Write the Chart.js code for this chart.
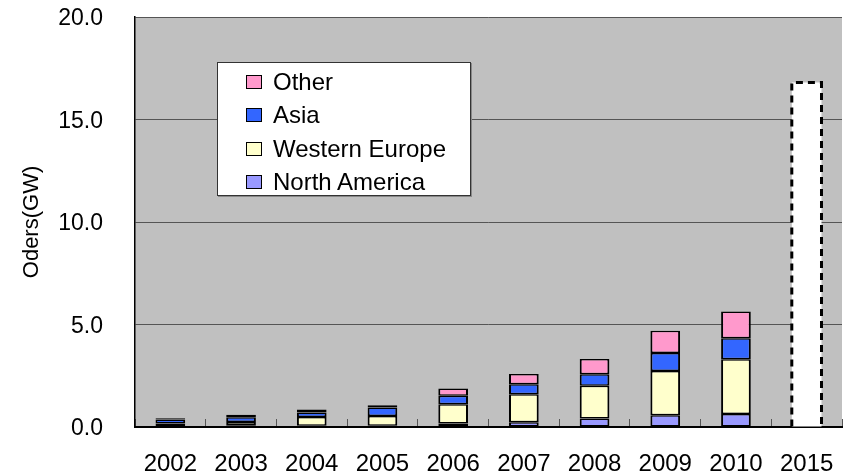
<!DOCTYPE html>
<html>
<head>
<meta charset="utf-8">
<script src="https://cdn.jsdelivr.net/npm/chart.js@4/dist/chart.umd.min.js"></script>
<style>
  body { margin: 0; background: #fff; }
  #wrap { position: relative; width: 845px; height: 473px; }
  #legend {
    position: absolute; left: 217px; top: 62px; width: 254px; height: 134px;
    background: #fff; border: 1px solid #333; box-shadow: 1px 1px 0 #888;
    padding: 2px 0 0 28px; box-sizing: border-box;
    font-family: "Liberation Sans", Arial, sans-serif; font-size: 24px; color: #000;
  }
  #legend .row { display: flex; align-items: center; height: 33.5px; }
  #legend .sw { width: 14px; height: 12px; border: 1px solid #000; margin-right: 11px; }
</style>
</head>
<body>
<div id="wrap">
  <canvas id="orderChart"></canvas>
  <div id="legend"></div>
</div>
<script>
var years = ['2002', '2003', '2004', '2005', '2006', '2007', '2008', '2009', '2010', '2015'];
var northAmerica  = [0.05, 0.08, 0.06, 0.06, 0.17, 0.23, 0.41, 0.57, 0.64, null];
var westernEurope = [0.12, 0.16, 0.43, 0.48, 0.94, 1.37, 1.60, 2.16, 2.66, null];
var asia          = [0.19, 0.24, 0.22, 0.41, 0.41, 0.48, 0.56, 0.88, 1.03, null];
var other         = [0.07, 0.12, 0.14, 0.11, 0.36, 0.50, 0.75, 1.08, 1.31, null];
var forecast      = [null, null, null, null, null, null, null, null, null, 16.8];
var yTicks = [0, 5, 10, 15, 20];

var font = '"Liberation Sans", Arial, sans-serif';

var segBorder = { top: 1.5, bottom: 1.5, left: 2, right: 2 };

function series(label, data, color) {
  return {
    label: label,
    data: data,
    backgroundColor: color,
    borderColor: '#000',
    borderWidth: segBorder,
    borderSkipped: false
  };
}

// grey plot background
var plotBg = {
  id: 'plotBg',
  beforeDraw: function(chart) {
    var a = chart.chartArea, c = chart.ctx;
    c.save();
    c.fillStyle = '#C0C0C0';
    c.fillRect(a.left, a.top, a.right - a.left, a.bottom - a.top);
    c.restore();
  }
};

// dotted outline round the 2015 bar
var dashedBar = {
  id: 'dashedBar',
  afterDatasetsDraw: function(chart) {
    var meta = chart.getDatasetMeta(4);
    var c = chart.ctx;
    meta.data.forEach(function(el, i) {
      if (forecast[i] == null) return;
      var p = el.getProps(['x', 'y', 'base', 'width'], true);
      var l = p.x - p.width / 2, r = p.x + p.width / 2;
      c.save();
      c.strokeStyle = '#000';
      c.lineWidth = 3;
      c.setLineDash([7, 5]);
      c.beginPath();
      c.moveTo(l, p.base);
      c.lineTo(l, p.y);
      c.lineTo(r, p.y);
      c.lineTo(r, p.base);
      c.stroke();
      c.restore();
    });
  }
};

var datasets = [
  series('North America', northAmerica, '#9999FF'),
  series('Western Europe', westernEurope, '#FFFFCC'),
  series('Asia', asia, '#3366FF'),
  series('Other', other, '#FF99CC'),
  { label: '2015', data: forecast, backgroundColor: '#FFFFFF', borderWidth: 0 }
];

var chart = new Chart(document.getElementById('orderChart'), {
  type: 'bar',
  data: { labels: years, datasets: datasets },
  options: {
    responsive: true,
    maintainAspectRatio: false,
    animation: false,
    layout: { padding: { top: 17, right: 3, left: 0, bottom: 0 } },
    datasets: { bar: { categoryPercentage: 1, barPercentage: 0.42 } },
    plugins: { legend: { display: false }, tooltip: { enabled: false } },
    scales: {
      x: {
        stacked: true,
        grid: { drawOnChartArea: false, drawTicks: true, tickLength: -8, color: '#555', offset: true },
        border: { color: '#000', width: 2 },
        ticks: { color: '#000', padding: 31, maxRotation: 0, font: { family: font, size: 24 } },
        afterFit: function(s) { s.height = 46; s.paddingLeft = 0; s.paddingRight = 0; }
      },
      y: {
        stacked: true,
        min: 0,
        max: 20,
        afterBuildTicks: function(s) { s.ticks = yTicks.map(function(v) { return { value: v }; }); },
        grid: { color: '#555', drawTicks: false },
        border: { color: '#000', width: 1.5 },
        ticks: {
          color: '#000', padding: 32, labelOffset: 2,
          font: { family: font, size: 23 },
          callback: function(v) { return Number(v).toFixed(1); }
        },
        title: {
          display: true, text: 'Oders(GW)', color: '#000',
          font: { family: font, size: 22 },
          padding: { top: 19, bottom: 0 }
        },
        afterFit: function(s) { s.width = 135; s.paddingTop = 0; s.paddingBottom = 0; }
      }
    }
  },
  plugins: [plotBg, dashedBar]
});

// legend, top series first
var legend = document.getElementById('legend');
datasets.slice(0, 4).reverse().forEach(function(ds) {
  var row = document.createElement('div');
  row.className = 'row';
  var sw = document.createElement('span');
  sw.className = 'sw';
  sw.style.background = ds.backgroundColor;
  row.appendChild(sw);
  row.appendChild(document.createTextNode(ds.label));
  legend.appendChild(row);
});
</script>
</body>
</html>
